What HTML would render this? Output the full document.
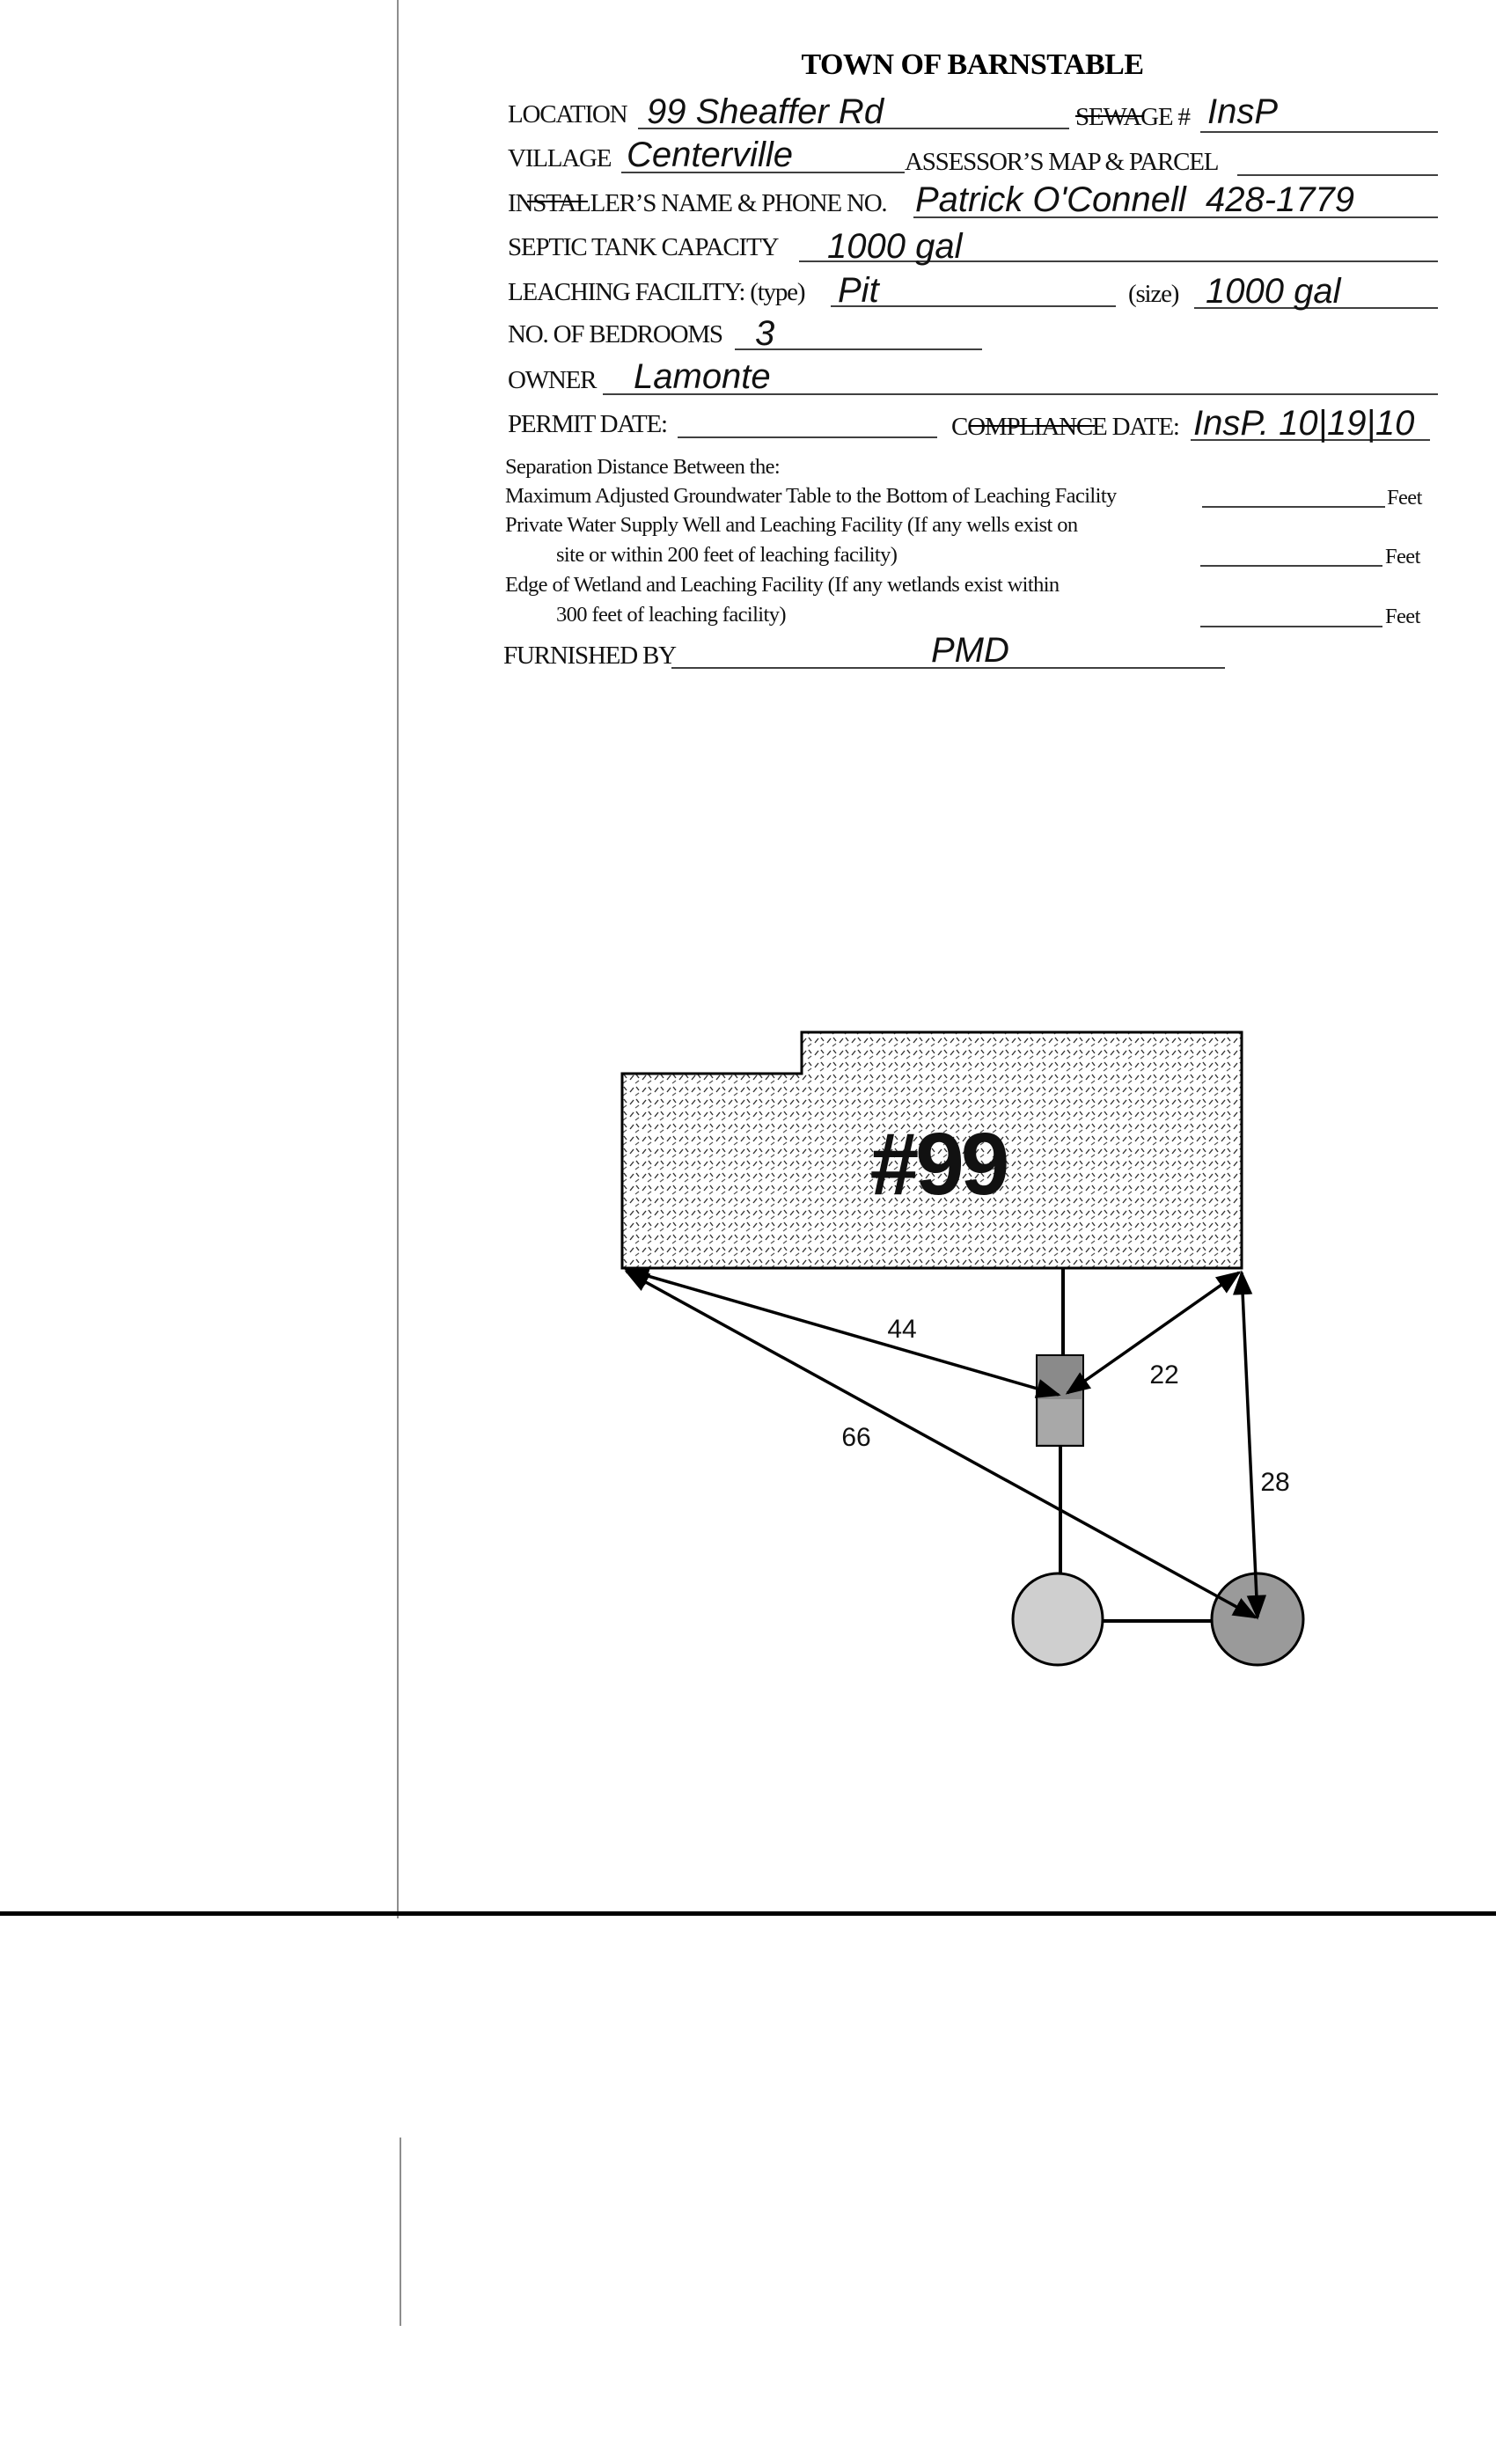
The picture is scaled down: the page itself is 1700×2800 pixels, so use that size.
<!DOCTYPE html>
<html><head><meta charset="utf-8"><style>
html,body{margin:0;padding:0;background:#fff;}
svg{display:block;}
.t{font-family:"Liberation Serif",serif;font-size:29px;fill:#111;letter-spacing:-1.2px;}
.s{font-family:"Liberation Serif",serif;font-size:24.5px;fill:#111;letter-spacing:-0.6px;}
.h{font-family:"Liberation Sans",sans-serif;font-size:40px;fill:#111;font-style:italic;font-weight:300;}
.n{font-family:"Liberation Sans",sans-serif;font-size:30px;fill:#111;}
</style></head><body>
<svg width="1700" height="2800" viewBox="0 0 1700 2800" xmlns="http://www.w3.org/2000/svg">
<defs>
<pattern id="dp" width="14" height="14" patternUnits="userSpaceOnUse">
<rect width="14" height="14" fill="#fff"/>
<line x1="2" y1="9" x2="6" y2="4" stroke="#333" stroke-width="1.4"/>
<line x1="9" y1="3" x2="12" y2="7" stroke="#333" stroke-width="1.4"/>
<line x1="8" y1="13" x2="12" y2="10" stroke="#555" stroke-width="1.2"/>
</pattern>
<marker id="ar2" viewBox="0 0 10 10" refX="9" refY="5" markerWidth="28" markerHeight="28" markerUnits="userSpaceOnUse" orient="auto-start-reverse">
<path d="M0,1 L10,5 L0,9 z" fill="#000"/>
</marker>
</defs>

<!-- page lines -->
<line x1="452" y1="0" x2="452" y2="2180" stroke="#444" stroke-width="1.2"/>
<rect x="0" y="2172" width="1700" height="5" fill="#000"/>
<line x1="455" y1="2429" x2="455" y2="2643" stroke="#444" stroke-width="1.2"/>

<!-- title -->
<text x="1105" y="84" text-anchor="middle" font-family="Liberation Serif, serif" font-weight="bold" font-size="34" letter-spacing="-0.5" fill="#000">TOWN OF BARNSTABLE</text>

<g stroke="#000" stroke-width="1.6">
<line x1="725" y1="146" x2="1215" y2="146"/>
<line x1="1364" y1="150" x2="1634" y2="150"/>
<line x1="706" y1="196" x2="1028" y2="196"/>
<line x1="1406" y1="199" x2="1634" y2="199"/>
<line x1="1038" y1="247" x2="1634" y2="247"/>
<line x1="908" y1="297" x2="1634" y2="297"/>
<line x1="944" y1="348" x2="1268" y2="348"/>
<line x1="1357" y1="350" x2="1634" y2="350"/>
<line x1="835" y1="397" x2="1116" y2="397"/>
<line x1="685" y1="448" x2="1634" y2="448"/>
<line x1="770" y1="497" x2="1065" y2="497"/>
<line x1="1353" y1="500" x2="1625" y2="500"/>
<line x1="1366" y1="576" x2="1574" y2="576"/>
<line x1="1364" y1="643" x2="1571" y2="643"/>
<line x1="1364" y1="712" x2="1571" y2="712"/>
<line x1="763" y1="759" x2="1392" y2="759"/>
</g>

<text class="t" x="577" y="139">LOCATION</text>
<text class="t" x="1222" y="142">SEWAGE #</text>
<line x1="1222" y1="132" x2="1300" y2="132" stroke="#000" stroke-width="2"/>
<text class="t" x="577" y="189">VILLAGE</text>
<text class="t" x="1028" y="193">ASSESSOR’S MAP &amp; PARCEL</text>
<text class="t" x="577" y="240">INSTALLER’S NAME &amp; PHONE NO.</text>
<line x1="599" y1="229" x2="668" y2="229" stroke="#000" stroke-width="2"/>
<text class="t" x="577" y="290">SEPTIC TANK CAPACITY</text>
<text class="t" x="577" y="341">LEACHING FACILITY: (type)</text>
<text class="t" x="1282" y="343">(size)</text>
<text class="t" x="577" y="389">NO. OF BEDROOMS</text>
<text class="t" x="577" y="441">OWNER</text>
<text class="t" x="577" y="491">PERMIT DATE:</text>
<text class="t" x="1081" y="494">COMPLIANCE DATE:</text>
<line x1="1101" y1="484" x2="1244" y2="484" stroke="#000" stroke-width="2"/>

<text class="s" x="574" y="538">Separation Distance Between the:</text>
<text class="s" x="574" y="571">Maximum Adjusted Groundwater Table to the Bottom of Leaching Facility</text>
<text class="s" x="1576" y="573">Feet</text>
<text class="s" x="574" y="604">Private Water Supply Well and Leaching Facility (If any wells exist on</text>
<text class="s" x="632" y="638">site or within 200 feet of leaching facility)</text>
<text class="s" x="1574" y="640">Feet</text>
<text class="s" x="574" y="672">Edge of Wetland and Leaching Facility (If any wetlands exist within</text>
<text class="s" x="632" y="706">300 feet of leaching facility)</text>
<text class="s" x="1574" y="708">Feet</text>
<text class="t" x="572" y="754">FURNISHED BY</text>

<!-- handwriting -->
<text class="h" x="735" y="140" font-size="50">99 Sheaffer Rd</text>
<text class="h" x="1372" y="140">InsP</text>
<text class="h" x="712" y="189" font-size="34">Centerville</text>
<text class="h" x="1040" y="240" font-size="38">Patrick O'Connell&#160;&#160;428-1779</text>
<text class="h" x="940" y="293" font-size="36">1000 gal</text>
<text class="h" x="952" y="343" font-size="36">Pit</text>
<text class="h" x="1370" y="344" font-size="36">1000 gal</text>
<text class="h" x="858" y="392" font-size="44">3</text>
<text class="h" x="720" y="441" font-size="38">Lamonte</text>
<text class="h" x="1356" y="494" font-size="36">InsP.&#160;10|19|10</text>
<text class="h" x="1058" y="752" font-size="70">PMD</text>

<!-- building -->
<path d="M707,1220 L911,1220 L911,1173 L1411,1173 L1411,1441 L707,1441 Z" fill="url(#dp)" stroke="#000" stroke-width="3"/>
<text x="1066" y="1357" text-anchor="middle" font-family="Liberation Sans, sans-serif" font-weight="bold" font-size="100" letter-spacing="-4" fill="#111">#99</text>

<!-- connectors -->
<g stroke="#000" stroke-width="4" fill="none">
<line x1="1208" y1="1441" x2="1208" y2="1540"/>
<line x1="1205" y1="1643" x2="1205" y2="1790"/>
<line x1="1254" y1="1842" x2="1378" y2="1842"/>
</g>
<rect x="1178" y="1540" width="53" height="103" fill="#8a8a8a" stroke="#000" stroke-width="2"/>
<rect x="1180" y="1590" width="49" height="51" fill="#a8a8a8"/>
<ellipse cx="1202" cy="1840" rx="51" ry="52" fill="#cfcfcf" stroke="#000" stroke-width="3"/>
<ellipse cx="1429" cy="1840" rx="52" ry="52" fill="#9a9a9a" stroke="#000" stroke-width="3"/>

<g stroke="#000" stroke-width="3.5" fill="none">
<line x1="712" y1="1443" x2="1203" y2="1585" marker-start="url(#ar2)" marker-end="url(#ar2)"/>
<line x1="712" y1="1445" x2="1427" y2="1838" marker-start="url(#ar2)" marker-end="url(#ar2)"/>
<line x1="1213" y1="1583" x2="1408" y2="1446" marker-start="url(#ar2)" marker-end="url(#ar2)"/>
<line x1="1411" y1="1446" x2="1429" y2="1838" marker-start="url(#ar2)" marker-end="url(#ar2)"/>
</g>

<text class="n" x="1025" y="1520" text-anchor="middle">44</text>
<text class="n" x="1323" y="1572" text-anchor="middle">22</text>
<text class="n" x="973" y="1643" text-anchor="middle">66</text>
<text class="n" x="1449" y="1694" text-anchor="middle">28</text>
</svg>
</body></html>
